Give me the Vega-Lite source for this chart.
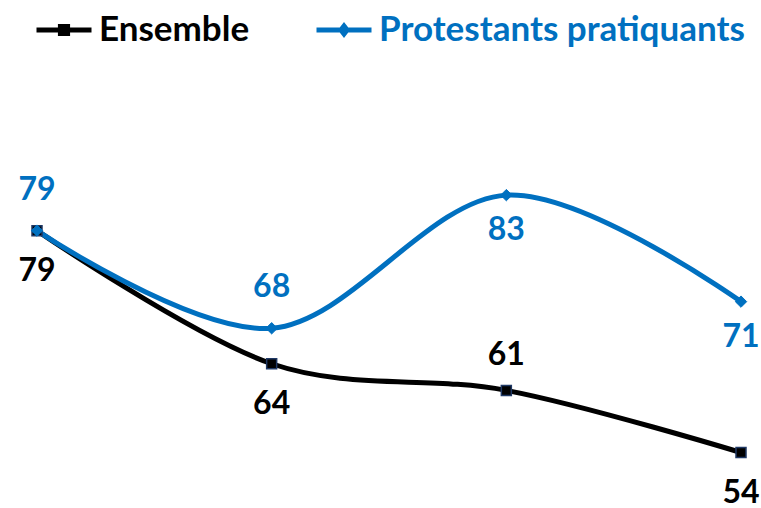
{
  "$schema": "https://vega.github.io/schema/vega-lite/v6.json",
  "width": 704,
  "height": 355,
  "padding": {"left": 37, "top": 133, "right": 20, "bottom": 20},
  "autosize": {"type": "none"},
  "background": "white",
  "config": {"view": {"stroke": null}, "font": "Lato"},
  "data": {
    "values": [
      {"series": "Ensemble", "point": 1, "value": 79},
      {"series": "Ensemble", "point": 2, "value": 64},
      {"series": "Ensemble", "point": 3, "value": 61},
      {"series": "Ensemble", "point": 4, "value": 54},
      {"series": "Protestants pratiquants", "point": 1, "value": 79},
      {"series": "Protestants pratiquants", "point": 2, "value": 68},
      {"series": "Protestants pratiquants", "point": 3, "value": 83},
      {"series": "Protestants pratiquants", "point": 4, "value": 71}
    ]
  },
  "encoding": {
    "x": {"field": "point", "type": "quantitative", "scale": {"domain": [1, 4], "nice": false}, "axis": null},
    "y": {"field": "value", "type": "quantitative", "scale": {"domain": [50, 90], "zero": false, "nice": false}, "axis": null}
  },
  "layer": [
    {
      "mark": {"type": "line", "interpolate": "cardinal", "strokeWidth": 5},
      "encoding": {
        "color": {
          "field": "series",
          "type": "nominal",
          "scale": {"domain": ["Ensemble", "Protestants pratiquants"], "range": ["#000000", "#0070C0"]},
          "legend": {
            "orient": "none",
            "legendX": -3,
            "legendY": -133,
            "direction": "horizontal",
            "title": null,
            "padding": 0,
            "symbolSize": 3025,
            "symbolStrokeWidth": 5,
            "labelFontSize": 35,
            "labelFont": "Lato",
            "labelFontWeight": "bold",
            "labelOffset": 5,
            "labelLimit": 0,
            "columnPadding": 56,
            "encode": {
              "symbols": {
                "update": {
                  "shape": {"signal": "datum.value == 'Ensemble' ? 'M-1,0L1,0M-0.13,-0.13L0.13,-0.13L0.13,0.13L-0.13,0.13Z' : 'M-1,0L1,0M0,-0.14L0.11,0L0,0.14L-0.11,0Z'"},
                  "fill": {"signal": "datum.value == 'Ensemble' ? '#000000' : '#0070C0'"},
                  "stroke": {"signal": "datum.value == 'Ensemble' ? '#000000' : '#0070C0'"},
                  "strokeWidth": {"value": 5},
                  "opacity": {"value": 1}
                }
              },
              "labels": {
                "update": {
                  "fill": {"signal": "datum.value == 'Ensemble' ? '#000000' : '#0070C0'"}
                }
              }
            }
          }
        }
      }
    },
    {
      "transform": [{"filter": "datum.series == 'Ensemble'"}],
      "mark": {"type": "point", "shape": "square", "filled": true, "fill": "#000000", "stroke": "#1F3864", "strokeWidth": 1.5, "size": 100, "opacity": 1}
    },
    {
      "transform": [{"filter": "datum.series == 'Protestants pratiquants'"}],
      "mark": {"type": "point", "shape": "diamond", "filled": true, "fill": "#0070C0", "stroke": "#0070C0", "strokeWidth": 1, "size": 130, "opacity": 1}
    },
    {
      "transform": [{"filter": "datum.series == 'Protestants pratiquants' && datum.point <= 2"}],
      "mark": {"type": "text", "font": "Lato", "fontWeight": "bold", "fontSize": 32, "baseline": "middle", "align": "center", "dy": -41},
      "encoding": {
        "text": {"field": "value", "type": "quantitative"},
        "color": {"condition": {"test": "datum.series == 'Ensemble'", "value": "#000000"}, "value": "#0070C0"}
      }
    },
    {
      "transform": [{"filter": "datum.series == 'Ensemble' && datum.point == 3"}],
      "mark": {"type": "text", "font": "Lato", "fontWeight": "bold", "fontSize": 32, "baseline": "middle", "align": "center", "dy": -35},
      "encoding": {
        "text": {"field": "value", "type": "quantitative"},
        "color": {"condition": {"test": "datum.series == 'Ensemble'", "value": "#000000"}, "value": "#0070C0"}
      }
    },
    {
      "transform": [{"filter": "datum.series == 'Ensemble' && datum.point != 3"}],
      "mark": {"type": "text", "font": "Lato", "fontWeight": "bold", "fontSize": 32, "baseline": "middle", "align": "center", "dy": 40},
      "encoding": {
        "text": {"field": "value", "type": "quantitative"},
        "color": {"condition": {"test": "datum.series == 'Ensemble'", "value": "#000000"}, "value": "#0070C0"}
      }
    },
    {
      "transform": [{"filter": "datum.series == 'Protestants pratiquants' && datum.point >= 3"}],
      "mark": {"type": "text", "font": "Lato", "fontWeight": "bold", "fontSize": 32, "baseline": "middle", "align": "center", "dy": 35},
      "encoding": {
        "text": {"field": "value", "type": "quantitative"},
        "color": {"condition": {"test": "datum.series == 'Ensemble'", "value": "#000000"}, "value": "#0070C0"}
      }
    }
  ]
}
